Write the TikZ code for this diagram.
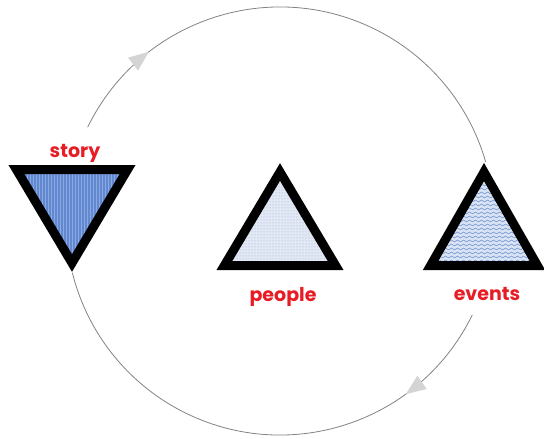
\documentclass[tikz,border=0pt]{standalone}
\usepackage{fontspec}
\setsansfont{Poppins}
\usetikzlibrary{arrows.meta,decorations.markings,patterns,calc}

\definecolor{lblred}{RGB}{232,28,36}
\definecolor{ringgray}{RGB}{130,130,130}
\definecolor{tipgray}{RGB}{212,212,212}
\definecolor{storyblue}{RGB}{98,136,210}
\definecolor{storyline}{RGB}{140,170,226}
\definecolor{peoplefill}{RGB}{226,233,244}
\definecolor{peopledot}{RGB}{150,170,210}
\definecolor{eventsfill}{RGB}{216,227,244}
\definecolor{eventswave}{RGB}{120,150,210}

% small wavy lines for the events triangle
\pgfdeclarepatternformonly{waves}{\pgfpoint{-1pt}{-1pt}}{\pgfpoint{7pt}{5pt}}{\pgfpoint{6pt}{4pt}}{
  \pgfsetlinewidth{0.6pt}
  \pgfpathmoveto{\pgfpoint{0pt}{2pt}}
  \pgfpathcurveto{\pgfpoint{1pt}{3.2pt}}{\pgfpoint{2pt}{3.2pt}}{\pgfpoint{3pt}{2pt}}
  \pgfpathcurveto{\pgfpoint{4pt}{0.8pt}}{\pgfpoint{5pt}{0.8pt}}{\pgfpoint{6pt}{2pt}}
  \pgfusepath{stroke}}

\begin{document}
\begin{tikzpicture}[x=1pt, y=1pt,
    tri/.style={draw=black, line width=9pt, line join=miter},
    lbl/.style={text=lblred, inner sep=0pt, font=\sffamily\bfseries\fontsize{19}{19}\selectfont},
    ring/.style={draw=ringgray, line width=0.8pt, postaction={decorate}}
]
\useasboundingbox (0,0) rectangle (544,-439);

\coordinate (c) at (280,-221);
\coordinate (story) at (72,-201);
\coordinate (people) at (280,-234);
\coordinate (events) at (484,-234);

% triangles
\draw[tri, preaction={fill=storyblue}, pattern=vertical lines, pattern color=storyline]
  ($(story)+(-55.6,31.5)$) -- ($(story)+(55.6,31.5)$) -- ($(story)+(0,-62)$) -- cycle;
\draw[tri, preaction={fill=peoplefill}, pattern=dots, pattern color=peopledot]
  ($(people)+(-55.6,-31.5)$) -- ($(people)+(0,62)$) -- ($(people)+(55.6,-31.5)$) -- cycle;
\draw[tri, preaction={fill=eventsfill}, pattern=waves, pattern color=eventswave]
  ($(events)+(-53.4,-31.5)$) -- ($(events)+(0,62)$) -- ($(events)+(53.4,-31.5)$) -- cycle;

% labels
\node[lbl] (storylbl) at (75,-153) {story};
\node[lbl] (peoplelbl) at (283,-297) {people};
\node[lbl] (eventslbl) at (487,-294) {events};

% the cycle
\draw[ring, decoration={markings, mark=at position 0.19 with {\arrow[tipgray]{Triangle[length=20pt, width=16pt]}}}]
  ($(c)+(154:214)$) arc[start angle=154, end angle=16, radius=214];
\draw[ring, decoration={markings, mark=at position 0.2 with {\arrow[tipgray]{Triangle[length=20pt, width=16pt]}}}]
  ($(c)+(334:214)$) arc[start angle=334, end angle=194, radius=214];
\end{tikzpicture}
\end{document}
